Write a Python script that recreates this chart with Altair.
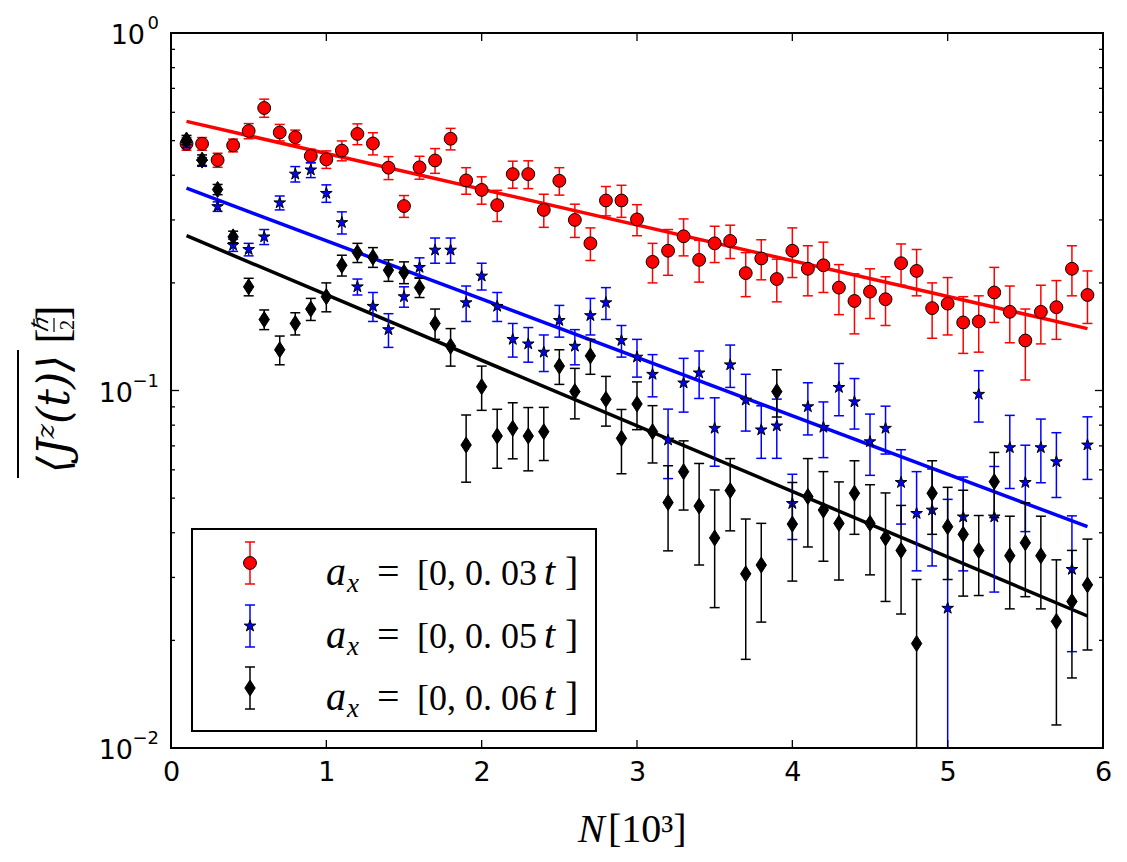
import math
import altair as alt
import pandas as pd

# ---- data -------------------------------------------------------------
N = [0.1, 0.2, 0.3, 0.4, 0.5, 0.6, 0.7, 0.8, 0.9, 1.0,
     1.1, 1.2, 1.3, 1.4, 1.5, 1.6, 1.7, 1.8, 1.9, 2.0,
     2.1, 2.2, 2.3, 2.4, 2.5, 2.6, 2.7, 2.8, 2.9, 3.0,
     3.1, 3.2, 3.3, 3.4, 3.5, 3.6, 3.7, 3.8, 3.9, 4.0,
     4.1, 4.2, 4.3, 4.4, 4.5, 4.6, 4.7, 4.8, 4.9, 5.0,
     5.1, 5.2, 5.3, 5.4, 5.5, 5.6, 5.7, 5.8, 5.9]

jz_003 = [0.490, 0.490, 0.441, 0.485, 0.532, 0.617, 0.527, 0.511, 0.453, 0.443,
          0.469, 0.522, 0.491, 0.420, 0.328, 0.421, 0.440, 0.506, 0.387, 0.364,
          0.330, 0.403, 0.403, 0.320, 0.386, 0.300, 0.258, 0.340, 0.340, 0.301,
          0.229, 0.246, 0.270, 0.232, 0.258, 0.262, 0.213, 0.234, 0.205, 0.246,
          0.219, 0.224, 0.194, 0.178, 0.189, 0.180, 0.227, 0.216, 0.170, 0.175,
          0.155, 0.156, 0.188, 0.166, 0.138, 0.166, 0.171, 0.219, 0.185]
err_003 = [0.020, 0.020, 0.020, 0.020, 0.026, 0.036, 0.028, 0.024, 0.020, 0.025,
           0.030, 0.035, 0.035, 0.031, 0.023, 0.031, 0.035, 0.035, 0.033, 0.032,
           0.033, 0.035, 0.036, 0.034, 0.034, 0.032, 0.027, 0.032, 0.035, 0.030,
           0.029, 0.036, 0.032, 0.031, 0.030, 0.028, 0.030, 0.030, 0.028, 0.039,
           0.035, 0.036, 0.031, 0.034, 0.030, 0.028, 0.030, 0.032, 0.030, 0.032,
           0.028, 0.028, 0.033, 0.030, 0.031, 0.031, 0.032, 0.035, 0.031]

jz_005 = [0.490, 0.436, 0.327, 0.255, 0.248, 0.269, 0.335, 0.403, 0.414, 0.356,
          0.295, 0.195, 0.172, 0.148, 0.183, 0.221, 0.247, 0.247, 0.176, 0.209,
          0.172, 0.139, 0.135, 0.128, 0.157, 0.133, 0.162, 0.176, 0.138, 0.124,
          0.111, 0.0727, 0.105, 0.112, 0.0784, 0.118, 0.094, 0.0776, 0.0796, 0.0483,
          0.0901, 0.0789, 0.102, 0.093, 0.0719, 0.0784, 0.0553, 0.0453, 0.0463, 0.0246,
          0.0443, 0.0976, 0.0443, 0.0692, 0.0553, 0.0692, 0.0632, 0.0316, 0.0704]
err_005 = [0.012, 0.012, 0.010, 0.010, 0.010, 0.013, 0.015, 0.020, 0.020, 0.020,
           0.021, 0.010, 0.016, 0.016, 0.012, 0.014, 0.020, 0.020, 0.020, 0.018,
           0.016, 0.015, 0.015, 0.015, 0.016, 0.015, 0.019, 0.018, 0.014, 0.015,
           0.015, 0.016, 0.018, 0.017, 0.017, 0.016, 0.017, 0.013, 0.015, 0.010,
           0.015, 0.014, 0.017, 0.015, 0.014, 0.012, 0.013, 0.014, 0.014, 0.025,
           0.013, 0.016, 0.017, 0.016, 0.015, 0.014, 0.013, 0.013, 0.014]

jz_006 = [0.502, 0.441, 0.365, 0.269, 0.195, 0.158, 0.130, 0.154, 0.169, 0.183,
          0.224, 0.243, 0.236, 0.217, 0.214, 0.194, 0.154, 0.133, 0.0704, 0.1025,
          0.0746, 0.0784, 0.0746, 0.0767, 0.117, 0.0993, 0.125, 0.0945, 0.0735, 0.0917,
          0.0767, 0.0486, 0.0593, 0.0475, 0.0387, 0.0525, 0.0307, 0.0325, 0.0993, 0.0423,
          0.0505, 0.0463, 0.0425, 0.0516, 0.0425, 0.0387, 0.0357, 0.0196, 0.0516, 0.0416,
          0.0396, 0.0357, 0.0556, 0.0345, 0.0375, 0.0345, 0.0226, 0.0257, 0.0286]
err_006 = [0.015, 0.015, 0.012, 0.010, 0.011, 0.010, 0.012, 0.011, 0.012, 0.017,
           0.015, 0.015, 0.015, 0.015, 0.015, 0.012, 0.015, 0.016, 0.015, 0.0145,
           0.014, 0.014, 0.015, 0.013, 0.013, 0.016, 0.014, 0.015, 0.015, 0.014,
           0.014, 0.013, 0.013, 0.015, 0.014, 0.012, 0.013, 0.010, 0.015, 0.013,
           0.014, 0.013, 0.013, 0.012, 0.012, 0.013, 0.012, 0.010, 0.012, 0.012,
           0.013, 0.009, 0.0115, 0.010, 0.011, 0.010, 0.011, 0.010, 0.0098]

# exponential fits, drawn between the first and last N
fit_N = [0.1, 5.9]
fit_003 = [0.566, 0.149]
fit_005 = [0.368, 0.0416]
fit_006 = [0.271, 0.0234]

series = ["0.03", "0.05", "0.06"]
colors = ["#ff0000", "#0000ff", "#000000"]

x_ticks = [0, 1, 2, 3, 4, 5, 6]
y_ticks = [0.01, 0.1, 1]
y_exponents = ["\u22122", "\u22121", "0"]

# ---- layout -----------------------------------------------------------
W, H = 932, 715
SERIF = "Liberation Serif"
SANS = "DejaVu Sans"

star = []
for k in range(10):
    r = 1.0 if k % 2 == 0 else 0.382
    a = -math.pi / 2 + k * math.pi / 5
    star.append(f"{r * math.cos(a):.3f},{r * math.sin(a):.3f}")
STAR = "M" + "L".join(star) + "Z"
DIAMOND = "M0,-1L0.65,0L0,1L-0.65,0Z"
shapes = ["circle", STAR, DIAMOND]
sizes = [165, 150, 256]

rows = []
for s, vals, errs in [(series[0], jz_003, err_003),
                      (series[1], jz_005, err_005),
                      (series[2], jz_006, err_006)]:
    for n, v, e in zip(N, vals, errs):
        rows.append({"s": s, "N": n, "v": v, "lo": max(v - e, 1e-4), "hi": v + e})
df = pd.DataFrame(rows)

fit_rows = []
for s, f in zip(series, [fit_003, fit_005, fit_006]):
    for n, v in zip(fit_N, f):
        fit_rows.append({"s": s, "N": n, "v": v})
df_fit = pd.DataFrame(fit_rows)

xs = alt.Scale(domain=[0, 6], nice=False, zero=False)
ys = alt.Scale(type="log", domain=[0.01, 1], nice=False)
cs = alt.Scale(domain=series, range=colors)

AX = alt.Axis(values=x_ticks, title=None, ticks=False, domain=False, grid=False,
              labelFont=SANS, labelFontSize=27, labelColor="black",
              labelPadding=11, format="d", labelFlush=False)
AY = alt.Axis(values=y_ticks, title=None, ticks=False, domain=False, grid=False,
              labels=False)


def X(field):
    return alt.X(field, type="quantitative", scale=xs, axis=AX)


def Y(field):
    return alt.Y(field, type="quantitative", scale=ys, axis=AY)


fits = alt.Chart(df_fit).mark_line(strokeWidth=3.5, clip=True).encode(
    x=X("N"), y=Y("v"),
    color=alt.Color("s:N", scale=cs, legend=None),
    detail="s:N",
)

layers = [fits]
for s, c, shp, sz in zip(series, colors, shapes, sizes):
    base = alt.Chart(df).transform_filter(alt.datum.s == s)
    bar = base.mark_rule(color=c, strokeWidth=1.5, clip=True).encode(
        x=X("N"), y=Y("lo"), y2="hi:Q")
    cap_hi = base.mark_point(shape="stroke", size=100, color=c, strokeWidth=1.5,
                             clip=True, opacity=1).encode(x=X("N"), y=Y("hi"))
    cap_lo = base.mark_point(shape="stroke", size=100, color=c, strokeWidth=1.5,
                             clip=True, opacity=1).encode(x=X("N"), y=Y("lo"))
    pts = base.mark_point(shape=shp, size=sz, filled=True, fill=c, stroke="black",
                          strokeWidth=1, opacity=1, clip=True).encode(x=X("N"), y=Y("v"))
    layers += [bar, cap_hi, cap_lo, pts]

# inward ticks on all four sides
xt = pd.DataFrame({"N": x_ticks[1:-1]})
major_y = pd.DataFrame({"v": [0.1]})
minor_y = pd.DataFrame({"v": [k * 0.01 for k in range(2, 10)] + [k * 0.1 for k in range(2, 10)]})
tick_style = dict(color="black", strokeWidth=1.3)
for y0, y1 in [(H, H - 8), (0, 8)]:
    layers.append(alt.Chart(xt).mark_rule(**tick_style).encode(
        x=X("N"), y=alt.value(y0), y2=alt.value(y1)))
for dfy, ln in [(major_y, 8), (minor_y, 4)]:
    for x0, x1 in [(0, ln), (W, W - ln)]:
        layers.append(alt.Chart(dfy).mark_rule(**tick_style).encode(
            y=Y("v"), x=alt.value(x0), x2=alt.value(x1)))

# y tick labels 10^k with a raised exponent
exp_width = {"0": 13, "\u22121": 25, "\u22122": 25}
for v, e in zip(y_ticks, y_exponents):
    d = pd.DataFrame({"v": [v]})
    layers.append(alt.Chart(d).mark_text(text="10", font=SANS, fontSize=27, align="right",
                                         baseline="middle", color="black", dy=3).encode(
        y=Y("v"), x=alt.value(-13 - exp_width[e])))
    layers.append(alt.Chart(d).mark_text(text=e, font=SANS, fontSize=18, align="right",
                                         baseline="middle", color="black", dy=-9).encode(
        y=Y("v"), x=alt.value(-12)))

# legend box
one = pd.DataFrame({"k": [0]})
LX0, LX1, LY0, LY1 = 21, 425, 496, 698
layers.append(alt.Chart(one).mark_rect(fill="white", stroke="black", strokeWidth=2).encode(
    x=alt.value(LX0), x2=alt.value(LX1), y=alt.value(LY0), y2=alt.value(LY1)))
MX = 79
row_y = [530, 593, 655]
txt = dict(font=SERIF, color="black", baseline="alphabetic", align="left")
for s, c, shp, sz, ry in zip(series, colors, shapes, sizes, row_y):
    layers.append(alt.Chart(one).mark_rule(color=c, strokeWidth=1.5).encode(
        x=alt.value(MX), y=alt.value(ry - 21), y2=alt.value(ry + 21)))
    for cy in (ry - 21, ry + 21):
        layers.append(alt.Chart(one).mark_rule(color=c, strokeWidth=1.5).encode(
            x=alt.value(MX - 5), x2=alt.value(MX + 5), y=alt.value(cy)))
    layers.append(alt.Chart(one).mark_point(shape=shp, size=sz, filled=True, fill=c,
                                            stroke="black", strokeWidth=1, opacity=1).encode(
        x=alt.value(MX), y=alt.value(ry)))
    bl = ry + 22
    layers.append(alt.Chart(one).mark_text(text="a", fontSize=40, fontStyle="italic", **txt).encode(
        x=alt.value(155), y=alt.value(bl)))
    layers.append(alt.Chart(one).mark_text(text="x", fontSize=27, fontStyle="italic", **txt).encode(
        x=alt.value(176), y=alt.value(bl + 7)))
    layers.append(alt.Chart(one).mark_text(text="=", fontSize=40, **txt).encode(
        x=alt.value(206), y=alt.value(bl)))
    layers.append(alt.Chart(one).mark_text(text=f"[0, 0. {s[2:]}", fontSize=36, **txt).encode(
        x=alt.value(246), y=alt.value(bl)))
    layers.append(alt.Chart(one).mark_text(text="t", fontSize=40, fontStyle="italic", **txt).encode(
        x=alt.value(373), y=alt.value(bl)))
    layers.append(alt.Chart(one).mark_text(text="]", fontSize=40, **txt).encode(
        x=alt.value(394), y=alt.value(bl)))

# x-axis title  N[10^3]
layers.append(alt.Chart(one).mark_text(text="N", font=SERIF, fontSize=40, fontStyle="italic",
                                       align="left", baseline="alphabetic", color="black").encode(
    x=alt.value(407), y=alt.value(809)))
layers.append(alt.Chart(one).mark_text(text="[10\u00b3]", font=SERIF, fontSize=40,
                                       align="left", baseline="alphabetic", color="black").encode(
    x=alt.value(437), y=alt.value(809)))

# y-axis title: overline over <J^z(t)> and [hbar/2]
layers.append(alt.Chart(one).mark_text(text="\u27e8J\u1dbb(t)\u27e9", font="DejaVu Serif", fontSize=44,
                                       fontStyle="italic", angle=270, align="center",
                                       baseline="middle", color="black").encode(
    x=alt.value(-115), y=alt.value(381)))
layers.append(alt.Chart(one).mark_rule(color="black", strokeWidth=2).encode(
    x=alt.value(-153), y=alt.value(317), y2=alt.value(445)))
for ch, yy in [("[", 303), ("]", 280)]:
    layers.append(alt.Chart(one).mark_text(text=ch, font=SERIF, fontSize=46, angle=270,
                                           align="center", baseline="middle", color="black").encode(
        x=alt.value(-117), y=alt.value(yy)))
layers.append(alt.Chart(one).mark_text(text="\u210f", font=SERIF, fontSize=22, fontStyle="italic",
                                       angle=270, align="center", baseline="middle",
                                       color="black").encode(x=alt.value(-130), y=alt.value(292)))
layers.append(alt.Chart(one).mark_text(text="2", font=SERIF, fontSize=20, angle=270,
                                       align="center", baseline="middle",
                                       color="black").encode(x=alt.value(-103), y=alt.value(292)))
layers.append(alt.Chart(one).mark_rule(color="black", strokeWidth=1.2).encode(
    x=alt.value(-117), y=alt.value(285), y2=alt.value(299)))

chart = alt.layer(*layers).properties(
    width=W, height=H,
    autosize=alt.AutoSizeParams(type="none"),
    padding={"left": 171, "top": 33, "right": 24, "bottom": 114},
    background="white",
).configure_view(stroke="black", strokeWidth=2)

chart.save("out.html", embed_options={"renderer": "svg", "actions": False})
